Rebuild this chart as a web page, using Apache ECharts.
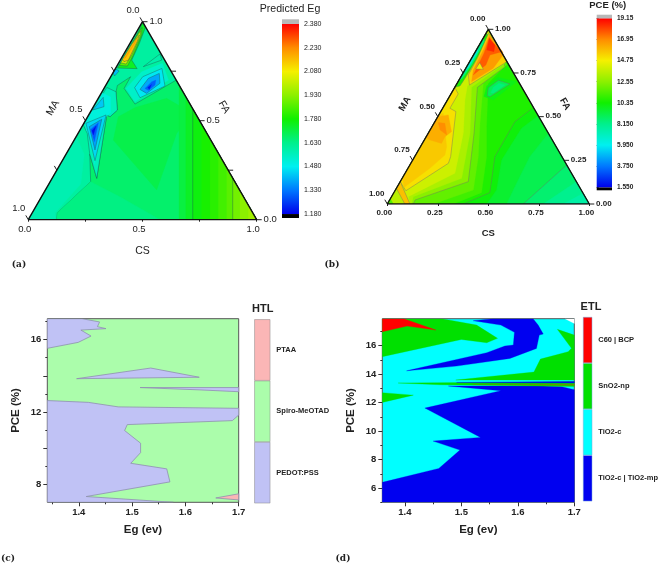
<!DOCTYPE html>
<html><head><meta charset="utf-8">
<style>html,body{margin:0;padding:0;background:#fff}#c{width:661px;height:566px}</style>
<script src="https://cdn.jsdelivr.net/npm/echarts@6/dist/echarts.min.js"></script>
</head><body><div id="c"></div>
<script>
// ---------- Panel (a): predicted Eg, points are [CS, FA]
const egScale = [1.18,2.38];
const egTicks = [1.18,1.33,1.48,1.63,1.78,1.93,2.08,2.23,2.38];
const aWhole = [[0,0],[1,0],[0,1]];
const aLeftEdge = [[0,0],[.12,0],[.10,.035],[.14,.18],[.08,.33],[0,.42]];
const aGreen = [[.124,0],[.110,.035],[.177,.192],[.103,.332],[.195,.209],[.079,.529],[.098,.520],[.113,.554],[.061,.646],[.051,.678],[.087,.722],[.088,.663],[.175,.584],[.295,.705],[1,0]];
const aLower = [[.124,0],[.110,.035],[.177,.192],[.343,.116],[.577,0]];
const aCentre = [[.171,.402],[.487,.150],[.432,.436],[.451,.537],[.299,.613],[.184,.567],[.134,.520]];
const aStripeCs = [.66,.69,.72,.759,.796,.832,.869,.895,.927,.964];
const aStripeEg = [1.71,1.74,1.765,1.79,1.81,1.84,1.87,1.90,1.93,1.96];
const aWrapUpper = [[.096,.663],[.169,.596],[.261,.705],[.192,.790],[.123,.747]];
const aHexOuter = [[.132,.667],[.140,.722],[.203,.764],[.261,.675],[.181,.616]];
const aHexMid = [[.160,.658],[.169,.714],[.204,.739],[.232,.689],[.199,.638]];
const aHexIn = [[.179,.663],[.192,.697],[.206,.705],[.215,.680],[.200,.652]];
const aHexCore = [[.189,.668],[.198,.683],[.201,.658]];
const aSmallTri = [[.117,.773],[.158,.837],[.181,.806]];
const aWrapLower = [[.01,.668],[.061,.646],[.113,.554],[.098,.520],[.079,.529],[.195,.209],[.103,.332],[.040,.436],[.002,.478]];
const aGlowLower = [[.005,.64],[.05,.62],[.09,.54],[.07,.50],[.15,.28],[.10,.38],[.03,.45],[.004,.49]];
const aPocketCyan = [[.019,.618],[.005,.554],[.046,.571]];
const aTriOuter = [[.009,.487],[.076,.529],[.143,.298]];
const aTriMid = [[.032,.470],[.068,.507],[.116,.352]];
const aTriIn = [[.045,.456],[.062,.490],[.092,.394]];
const aTriCore = [[.054,.449],[.060,.473],[.071,.428]];
const aTinyBlue = [[.002,.761],[.022,.751],[.015,.726],[0,.742]];
const aTinyBlue2 = [[.045,.795],[.058,.792],[.052,.775]];
const aHot1 = [[.003,.995],[.027,.971],[.041,.891],[.05,.806],[.095,.763],[.007,.766],[.012,.882]];
const aHot2 = [[.012,.971],[.030,.933],[.044,.832],[.046,.776],[.009,.779],[.007,.891]];
const aHot3 = [[.015,.955],[.027,.924],[.037,.832],[.035,.786],[.008,.793],[.008,.874]];
const aHot4 = [[.020,.933],[.027,.899],[.035,.806],[.020,.798],[.007,.810],[.010,.887]];
const aHot5 = [[.019,.916],[.021,.891],[.018,.820],[.012,.813]];

// ---------- Panel (b): PCE, points are [CS, FA]
const pceScale = [1.55,19.15];
const pceTicks = [1.55,3.75,5.95,8.15,10.35,12.55,14.75,16.95,19.15];
const bR1 = [[.492,0],[.501,.080],[.440,.252],[.448,.433],[.495,.506],[1,0]];
const bR2 = [[.591,0],[.582,.099],[.570,.271],[.595,.405],[1,0]];
const bR3 = [[.673,0],[.776,.223],[1,0]];
const bR4 = [[.772,0],[.872,.128],[1,0]];
const bR5 = [[.871,0],[.939,.061],[1,0]];
const bN0 = [[.376,0],[.475,.065],[.397,.271],[.396,.471],[.447,.553],[0,1],[0,0]];
const bN1 = [[.327,0],[.434,.065],[.356,.271],[.270,.443],[.154,.691],[.195,.805],[0,1],[0,0]];
const bN2 = [[.228,0],[.386,.080],[.315,.271],[.228,.462],[.130,.691],[.193,.796],[0,1],[0,0]];
const bN3 = [[.129,0],[.126,.023],[.337,.128],[.227,.405],[.112,.668],[.190,.786],[0,1],[0,0]];
const bN4 = [[.12,0],[.108,.042],[.295,.147],[.207,.405],[.083,.668],[.180,.805],[0,1],[0,0]];
const bN5 = [[.112,0],[.083,.042],[.247,.176],[.174,.405],[.087,.595],[.058,.676],[.171,.824],[0,1],[0,0]];
const bO1 = [[.054,.076],[.186,.233],[.178,.271],[.075,.529],[.036,.548],[.036,.630],[0,.668],[0,.128]];
const bO2 = [[.035,.095],[.109,.204],[.145,.281],[.130,.328],[.018,.519],[0,.51],[0,.15]];
const bO3 = [[0,.5],[.047,.51],[.111,.414],[.093,.385],[.095,.347],[.028,.366],[0,.38]];
const bO4 = [[.019,.466],[.054,.462],[.097,.395],[.049,.424]];
const bCornerA = [[0,0],[.087,0],[0,.09]];
const bCornerB = [[0,0],[.03,0],[0,.03]];
const bCornerC = [[0,.128],[.112,0],[.087,0],[0,.09]];
const bSliverA = [[.003,.977],[.021,.962],[.028,.828],[.025,.719],[.022,.676],[0,.668]];
const bSliverB = [[0,.95],[.016,.93],[.02,.8],[.012,.72],[0,.7]];
const bSliverC = [[0,.9],[.012,.87],[.012,.78],[0,.76]];
const bH1 = [[.066,.681],[.032,.739],[.028,.844],[.013,.977],[.141,.859],[.185,.815]];
const bH2 = [[.067,.700],[.042,.767],[.034,.882],[.021,.968],[.135,.872],[.147,.853],[.136,.777]];
const bH3 = [[.056,.739],[.047,.863],[.028,.954],[.065,.920],[.132,.872],[.082,.853],[.090,.796]];
const bH4 = [[.051,.882],[.031,.948],[.078,.910],[.092,.872]];
const bH5 = [[.051,.773],[.053,.809],[.090,.771]];
const bPocket1 = [[.171,.615],[.154,.676],[.187,.725],[.290,.700],[.227,.595]];
const bPocket2 = [[.185,.620],[.167,.666],[.196,.708],[.263,.687],[.201,.614]];
const bPocket3 = [[.193,.637],[.191,.668],[.207,.691],[.242,.681],[.208,.634]];

// ---------- Panel (c): HTL regions, points are [Eg, PCE]
const htlNames = ['PEDOT:PSS','Spiro-MeOTAD','PTAA'];
const cTop = [[1.341,17.16],[1.406,17.16],[1.439,16.98],[1.435,16.72],[1.451,16.61],[1.404,16.53],[1.423,16.20],[1.399,15.85],[1.341,15.52]];
const cSpike = [[1.396,13.84],[1.535,14.43],[1.626,13.92]];
const cSliver = [[1.515,13.35],[1.7,13.35],[1.7,13.12],[1.6275,13.22]];
const cMain = [[1.341,12.63],[1.418,12.53],[1.474,12.28],[1.7,12.20],[1.7,11.83],[1.688,11.52],[1.491,11.30],[1.486,10.97],[1.516,10.27],[1.516,9.75],[1.4975,9.16],[1.565,8.85],[1.571,8.13],[1.414,7.32],[1.5775,7.0],[1.341,7.0]];
const cPink = [[1.657,7.24],[1.7,7.47],[1.7,7.13]];

// ---------- Panel (d): ETL regions, points are [Eg, PCE]
const etlNames = ['TiO2-c | TiO2-mp','TiO2-c','SnO2-np','C60 | BCP'];
const dMain = [[1.36,6.40],[1.460,7.38],[1.4975,8.67],[1.450,9.30],[1.534,9.56],[1.4354,11.62],[1.570,12.84],[1.477,13.17],[1.645,13.17],[1.678,13.12],[1.7,12.91],[1.7,5],[1.36,5]];
const dStripeG = [[1.388,13.38],[1.7,13.47],[1.7,13.14],[1.462,13.26]];
const dStripeB = [[1.4915,13.42],[1.7,13.49],[1.7,13.38]];
const dStripeR = [[1.52,13.28],[1.7,13.29],[1.7,13.22]];
const dGreenRight = [[1.67,17.15],[1.695,15.82],[1.689,15.58],[1.64,15.06],[1.6285,14.15],[1.49,13.59],[1.7,13.59],[1.7,16.75]];
const dBlueUpper = [[1.403,14.24],[1.545,15.51],[1.577,15.98],[1.592,16.05],[1.594,16.94],[1.570,17.45],[1.521,17.76],[1.5565,17.9],[1.627,17.9],[1.636,17.45],[1.645,16.82],[1.638,16.75],[1.633,15.81],[1.586,15.11],[1.4915,14.57]];
const dGreenTop = [[1.36,15.23],[1.50,16.44],[1.545,16.21],[1.564,16.52],[1.527,17.45],[1.465,17.9],[1.36,17.9]];
const dRed = [[1.36,17.9],[1.398,17.9],[1.455,17.10],[1.404,17.38],[1.36,16.98]];
const dGreenLow = [[1.36,12.70],[1.415,12.53],[1.36,12.02]];
const dWhite = [[1.6835,17.9],[1.7,17.9],[1.7,17.57]];

// ---------- colours
const stops=[[0,[0,0,235]],[.125,[0,120,255]],[.25,[0,240,240]],[.375,[0,240,140]],[.5,[16,240,0]],[.625,[140,240,0]],[.75,[245,240,0]],[.875,[255,140,0]],[1,[255,0,0]]];
function rampColor(t){t=Math.max(0,Math.min(1,t));let i=0;while(i<stops.length-2&&t>stops[i+1][0])i++;
  const a=stops[i],b=stops[i+1],f=(t-a[0])/(b[0]-a[0]);return 'rgb('+a[1].map((c,k)=>Math.round(c+(b[1][k]-c)*f)).join(',')+')';}
const egCol=v=>rampColor((v-egScale[0])/(egScale[1]-egScale[0]));
const pceCol=v=>rampColor((v-pceScale[0])/(pceScale[1]-pceScale[0]));
const L=(pts,fill,line)=>({pts,fill,line:!!line});

const aLayers=[L(aWhole,egCol(1.6)),L(aLeftEdge,egCol(1.575)),L(aGreen,egCol(1.665),1),L(aLower,egCol(1.64)),L(aCentre,egCol(1.70))];
aStripeCs.forEach((x,i)=>aLayers.push(L([[x,0],[1,0],[2*x-1,2*(1-x)]],egCol(aStripeEg[i]),x===.72||x===.895)));
aLayers.push(L(aWrapUpper,egCol(1.54)),L(aHexOuter,egCol(1.47),1),L(aHexMid,egCol(1.39),1),L(aHexIn,egCol(1.30)),L(aHexCore,egCol(1.21)),L(aSmallTri,egCol(1.585),1),
 L(aWrapLower,egCol(1.56),1),L(aGlowLower,egCol(1.51)),L(aPocketCyan,egCol(1.43),1),L(aTriOuter,egCol(1.45),1),L(aTriMid,egCol(1.38),1),L(aTriIn,egCol(1.29)),L(aTriCore,egCol(1.2)),L(aTinyBlue,egCol(1.42),1),L(aTinyBlue2,egCol(1.45)),
 L(aHot1,egCol(1.74),1),L(aHot2,egCol(1.87),1),L(aHot3,egCol(2.03),1),L(aHot4,egCol(2.14),1),L(aHot5,egCol(2.21)));

const bLayers=[L(aWhole,pceCol(10.2)),L(bR1,pceCol(9.6)),L(bR2,pceCol(9.1)),L(bR3,pceCol(8.6),1),L(bR4,pceCol(8.1)),L(bR5,pceCol(7.6)),
 L(bN0,pceCol(10.6),1),L(bN1,pceCol(11.2)),L(bN2,pceCol(11.8)),L(bN3,pceCol(12.5),1),L(bN4,pceCol(13.2)),L(bN5,pceCol(13.9)),
 L(bO1,pceCol(15.1),1),L(bO2,pceCol(15.6)),L(bO3,pceCol(16.2)),L(bO4,pceCol(16.9)),
 L(bCornerA,pceCol(13.5)),L(bCornerB,pceCol(11.5)),L(bCornerC,pceCol(15.8),1),
 L(bSliverA,pceCol(10.6),1),L(bSliverB,pceCol(8.3)),L(bSliverC,pceCol(6.6)),
 L(bH1,pceCol(15.4),1),L(bH2,pceCol(16.6)),L(bH3,pceCol(17.7)),L(bH4,pceCol(18.5)),L(bH5,pceCol(14.7),1),
 L(bPocket1,pceCol(10.0)),L(bPocket2,pceCol(9.0),1),L(bPocket3,pceCol(8.4))];

const LAV='#c0c2f5',GRN='#abfdab',PINK='#fbb6b6';
const cLayers=[L(cTop,LAV,1),L(cSpike,LAV,1),L(cSliver,LAV,1),L(cMain,LAV,1),L(cPink,PINK,1)];
const BL='#0000f0',CY='#00ffff',GR='#00e000',RD='#ff0000';
const dLayers=[L(dMain,BL),L(dGreenRight,GR),L(dStripeG,GR),L(dStripeB,BL),L(dStripeR,'#808000'),L(dBlueUpper,BL),L(dGreenTop,GR),L(dRed,RD),L(dGreenLow,GR),L(dWhite,'#ffffff')];

// ---------- option scaffolding
const FS='"Liberation Sans",Arial,sans-serif';
const grids=[],xAxes=[],yAxes=[],series=[];
function addGrid(l,t,w,h){grids.push({left:l,top:t,width:w,height:h,show:false});return grids.length-1;}
const tern=p=>[p[0]+p[1]/2,p[1]];
function layerSeries(xi,yi,layers,toPlot,stroke,lw){series.push({type:'custom',coordinateSystem:'cartesian2d',xAxisIndex:xi,yAxisIndex:yi,silent:true,clip:true,animation:false,
  data:layers.map((_,i)=>[i]),renderItem:(p,api)=>{const l=layers[p.dataIndex];return {type:'polygon',shape:{points:l.pts.map(q=>api.coord(toPlot(q)))},style:{fill:l.fill,stroke:l.line?stroke:l.fill,lineWidth:l.line?lw:.3}};}});}

function ternary(box,layers,stroke,o){
  const g=addGrid(box[0],box[1],box[2],box[3]);
  xAxes.push({gridIndex:g,type:'value',min:0,max:1,position:'bottom',name:'CS',nameLocation:'middle',nameGap:o.nameGap,nameTextStyle:{fontFamily:FS,fontSize:o.nameSize,fontWeight:o.weight,color:'#222'},
    axisLine:{show:false},splitLine:{show:false},
    axisTick:{show:true,length:2,customValues:[0,.25,.5,.75,1],lineStyle:{color:'#222'}},
    axisLabel:{customValues:o.labels,formatter:v=>v.toFixed(o.dec),fontFamily:FS,fontSize:o.size,fontWeight:o.weight,color:'#222',margin:o.margin,padding:[0,o.shift,0,0]}});
  yAxes.push({gridIndex:g,type:'value',min:0,max:1,show:false});
  const xi=xAxes.length-1,yi=yAxes.length-1;
  layerSeries(xi,yi,layers,tern,stroke,.7);
  series.push({type:'line',xAxisIndex:xi,yAxisIndex:yi,silent:true,animation:false,symbol:'none',lineStyle:{color:'#111',width:1.4},data:[[0,0],[1,0],[.5,1],[0,0]]});
  const ticks=[0,.25,.5,.75,1];
  const rows=[];
  ticks.forEach(t=>{rows.push(['MA',t]);rows.push(['FA',t]);});
  series.push({type:'custom',coordinateSystem:'cartesian2d',xAxisIndex:xi,yAxisIndex:yi,silent:true,clip:false,animation:false,data:rows.map((_,i)=>[i]),
    renderItem:(p,api)=>{const r=rows[p.dataIndex],t=r[1],isMA=r[0]==='MA';
      const c=api.coord(isMA?tern([0,1-t]):tern([1-t,t]));
      const d=isMA?[-2.5,-4.3]:[5,0];const off=isMA?o.maOff:o.faOff;
      const kids=[{type:'line',shape:{x1:c[0],y1:c[1],x2:c[0]+d[0],y2:c[1]+d[1]},style:{stroke:'#222',lineWidth:1}}];
      if(o.labels.includes(t))kids.push({type:'text',style:{x:c[0]+off[0],y:c[1]+off[1],text:t.toFixed(o.dec),align:'center',verticalAlign:'middle',fontFamily:FS,fontSize:o.size,fontWeight:o.weight,fill:'#222'}});
      return {type:'group',children:kids};}});
}
function colorbar(box,range,ticks,fmt,size,weight,margin){
  const g=addGrid(box[0],box[1],box[2],box[3]);
  xAxes.push({gridIndex:g,type:'value',min:0,max:1,show:false});
  yAxes.push({gridIndex:g,type:'value',min:range[0],max:range[3],position:'right',splitLine:{show:false},axisLine:{show:false},
    axisTick:{length:2,customValues:ticks,lineStyle:{color:'#333'}},
    axisLabel:{customValues:ticks,formatter:fmt,fontFamily:FS,fontSize:size,fontWeight:weight,color:'#222',margin}});
  const bands=[[range[0],range[1],'#000000'],[range[1],range[2],null],[range[2],range[3],'#b8b8b8']];
  series.push({type:'custom',coordinateSystem:'cartesian2d',xAxisIndex:xAxes.length-1,yAxisIndex:yAxes.length-1,silent:true,animation:false,data:bands.map((_,i)=>[i]),
    renderItem:(p,api)=>{const b=bands[p.dataIndex];const a=api.coord([0,b[1]]),c=api.coord([1,b[0]]);
      const fill=b[2]||new echarts.graphic.LinearGradient(0,1,0,0,stops.map(s=>({offset:s[0],color:'rgb('+s[1].join(',')+')'})));
      return {type:'rect',shape:{x:a[0],y:a[1],width:c[0]-a[0],height:c[1]-a[1]},style:{fill,stroke:null}};}});
}
function region(box,xr,yr,xLabels,xMinor,yLabels,yMajor,yMinor,layers,stroke,bg){
  const g=addGrid(box[0],box[1],box[2],box[3]);grids[g].show=true;grids[g].borderColor='#555';grids[g].borderWidth=1;grids[g].backgroundColor=bg;
  const lab={fontFamily:FS,fontSize:9.5,fontWeight:'bold',color:'#222'};
  const nm={fontFamily:FS,fontSize:11.5,fontWeight:'bold',color:'#222'};
  xAxes.push({gridIndex:g,type:'value',min:xr[0],max:xr[1],position:'bottom',name:'Eg (ev)',nameLocation:'middle',nameGap:22,nameTextStyle:nm,splitLine:{show:false},axisLine:{show:false},
    axisTick:{length:4,customValues:xLabels,lineStyle:{color:'#333'}},axisLabel:Object.assign({customValues:xLabels,formatter:v=>v.toFixed(1),margin:5},lab)});
  const xi=xAxes.length-1;
  xAxes.push({gridIndex:g,type:'value',min:xr[0],max:xr[1],position:'bottom',splitLine:{show:false},axisLine:{show:false},axisLabel:{show:false},axisTick:{length:2,customValues:xMinor,lineStyle:{color:'#333'}}});
  yAxes.push({gridIndex:g,type:'value',min:yr[0],max:yr[1],position:'left',name:'PCE (%)',nameLocation:'middle',nameGap:25,nameTextStyle:nm,splitLine:{show:false},axisLine:{show:false},
    axisTick:{length:4,customValues:yMajor,lineStyle:{color:'#333'}},axisLabel:Object.assign({customValues:yLabels,formatter:v=>String(v),margin:6},lab)});
  const yi=yAxes.length-1;
  yAxes.push({gridIndex:g,type:'value',min:yr[0],max:yr[1],position:'left',splitLine:{show:false},axisLine:{show:false},axisLabel:{show:false},axisTick:{length:2,customValues:yMinor,lineStyle:{color:'#333'}}});
  layerSeries(xi,yi,layers,p=>p,stroke,.8);
}
function legendBar(box,names,colors,border){
  const g=addGrid(box[0],box[1],box[2],box[3]);
  xAxes.push({gridIndex:g,type:'value',min:0,max:1,show:false});
  yAxes.push({gridIndex:g,type:'category',data:names,position:'right',axisLine:{show:false},axisTick:{show:false},splitLine:{show:false},
    axisLabel:{fontFamily:FS,fontSize:7.5,fontWeight:'bold',color:'#222',margin:6}});
  series.push({type:'bar',xAxisIndex:xAxes.length-1,yAxisIndex:yAxes.length-1,barWidth:'100%',silent:true,animation:false,
    data:names.map((_,i)=>({value:1,itemStyle:{color:colors[i],borderColor:border,borderWidth:.5}}))});
}

ternary([28.3,21.7,228.4,198],aLayers,'rgba(30,90,80,.6)',{labels:[0,.5,1],dec:1,size:9.5,weight:'normal',nameSize:10.5,nameGap:26,margin:5,shift:7,maOff:[-9.5,-11],faOff:[13.5,0]});
colorbar([282,19.3,17,198.7],[1.155,1.18,2.38,2.4095],egTicks,v=>v.toFixed(3),7,'normal',5);
ternary([387.3,29.3,202,174.7],bLayers,'rgba(110,110,100,.6)',{labels:[0,.25,.5,.75,1],dec:2,size:8,weight:'bold',nameSize:9.5,nameGap:24,margin:5,shift:6,maOff:[-10.6,-10.3],faOff:[14.5,-.5]});
colorbar([596.7,14.7,15.3,175.6],[1.24,1.55,19.15,19.53],pceTicks,v=>v.toPrecision(4),6.5,'bold',5);
region([47.3,318.7,191.4,183.6],[1.341,1.7],[7,17.16],[1.4,1.5,1.6,1.7],[1.35,1.45,1.55,1.65],[8,12,16],[8,10,12,14,16],[9,11,13,15,17],cLayers,'#8f8fb0',GRN);
legendBar([254.3,319.3,16,184],htlNames,[LAV,GRN,PINK],'#888');
region([382.3,318.7,192,183.6],[1.36,1.7],[5,17.9],[1.4,1.5,1.6,1.7],[1.45,1.55,1.65],[6,8,10,12,14,16],[6,8,10,12,14,16],[5,7,9,11,13,15,17],dLayers,'none',CY);
legendBar([583,317,16,184.3],etlNames,[BL,CY,GR,RD],'#7ad');

const txt=(x,y,text,font,rotation)=>({type:'text',x,y,rotation:rotation||0,silent:true,style:{text,font,fill:'#222',align:'center',verticalAlign:'middle'}});
const PANEL='bold 9px "DejaVu Serif",serif';
const graphic=[
 txt(53,108,'MA','10.5px '+FS,Math.PI/3),txt(224,107,'FA','10.5px '+FS,-Math.PI/3),
 txt(405,104,'MA','bold 9.5px '+FS,Math.PI/3),txt(565,104,'FA','bold 9.5px '+FS,-Math.PI/3),
 txt(290,9.3,'Predicted Eg','10.6px '+FS),txt(607.7,5.6,'PCE (%)','bold 9.5px '+FS),
 txt(262.7,309,'HTL','bold 11px '+FS),txt(591,306.7,'ETL','bold 11px '+FS),
 txt(19,264.5,'(a)',PANEL),txt(332,264.5,'(b)',PANEL),txt(8,559,'(c)',PANEL),txt(343,559,'(d)',PANEL)
];
const chart=echarts.init(document.getElementById('c'),null,{renderer:'canvas'});
chart.setOption({animation:false,backgroundColor:'#fff',grid:grids,xAxis:xAxes,yAxis:yAxes,series,graphic});
</script></body></html>
